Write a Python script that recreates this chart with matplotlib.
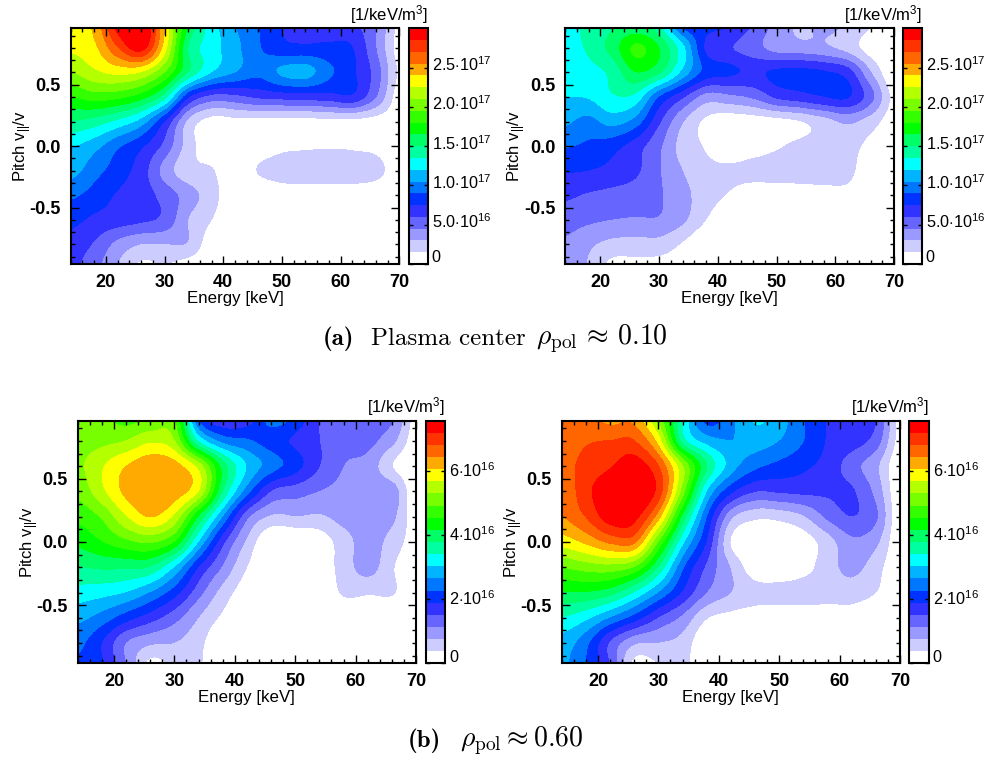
#!/usr/bin/env python3
"""
Fast-ion velocity space contours, plasma center and rho_pol=0.60.
Two pairs of energy/pitch panels, each with its own colour bar.
"""

import numpy as np
import matplotlib
matplotlib.use("Agg")
import matplotlib.pyplot as plt
from matplotlib.colors import BoundaryNorm, ListedColormap
from matplotlib.ticker import MultipleLocator

# =============================================================================
# DATA
# =============================================================================

ENERGY = [14, 18, 22, 26, 30, 34, 38, 42, 46, 50, 54, 58, 62, 66, 70]
PITCH = [1.0, 0.8, 0.6, 0.4, 0.2, 0.0, -0.2, -0.4, -0.6, -0.8, -1.0]

# values in units of one colour step (one row per pitch, top to bottom)
CENTER_A = [
    [15.6, 16.3, 19.6, 20.5, 16.0, 11.0, 8.5, 7.0, 6.0, 5.0, 4.5, 4.5, 4.2, 3.0, 0.7],
    [15.2, 15.8, 18.0, 19.5, 15.5, 10.0, 8.5, 7.3, 6.1, 5.3, 5.2, 5.2, 5.0, 3.0, 0.5],
    [14.0, 14.8, 15.3, 15.0, 13.0, 10.0, 8.0, 7.0, 6.3, 7.2, 7.4, 6.2, 5.2, 3.5, 0.8],
    [12.0, 12.5, 12.3, 11.5, 9.5, 5.2, 3.7, 3.8, 4.2, 4.4, 4.5, 4.6, 4.8, 3.0, 0.4],
    [10.0, 9.6, 8.8, 7.6, 5.0, 1.8, 0.6, 0.7, 0.7, 0.7, 0.7, 0.8, 0.8, 0.6, 0.3],
    [8.1, 7.4, 6.2, 5.2, 3.7, 1.5, 0.3, 0.2, 0.4, 0.8, 0.9, 0.95, 0.9, 0.7, 0.0],
    [7.4, 6.4, 5.5, 4.5, 2.6, 1.3, 1.1, 0.0, 1.1, 1.5, 1.5, 1.5, 1.5, 1.4, 0.2],
    [6.2, 5.6, 4.9, 4.5, 3.6, 2.5, 1.4, 0.2, 0.1, 0.4, 0.5, 0.5, 0.5, 0.2, 0.0],
    [5.3, 4.8, 4.5, 4.2, 3.7, 2.0, 1.0, 0.0, 0.0, 0.0, 0.0, 0.0, 0.0, 0.0, 0.0],
    [4.6, 3.9, 2.7, 2.0, 2.0, 1.9, 0.3, 0.0, 0.0, 0.0, 0.0, 0.0, 0.0, 0.0, 0.0],
    [4.2, 3.3, 1.9, 0.7, 0.9, 0.3, 0.0, 0.0, 0.0, 0.0, 0.0, 0.0, 0.0, 0.0, 0.0],
]
CENTER_B = [
    [8.6, 9.3, 9.8, 10.0, 9.1, 5.5, 5.4, 5.1, 3.9, 2.7, 1.8, 2.3, 1.9, 1.1, 0.0],
    [8.5, 9.2, 10.4, 12.2, 11.0, 8.3, 4.8, 4.1, 3.4, 2.6, 2.4, 2.2, 1.6, 0.5, 0.0],
    [8.1, 8.6, 9.3, 11.0, 10.2, 7.7, 5.6, 5.2, 4.8, 5.2, 5.3, 5.1, 4.5, 2.0, 0.0],
    [8.0, 8.1, 8.9, 8.7, 6.0, 4.2, 2.6, 2.8, 3.2, 4.2, 4.6, 5.0, 5.1, 3.3, 0.6],
    [7.2, 6.7, 7.4, 6.6, 4.2, 2.1, 0.8, 0.4, 0.5, 0.7, 1.0, 1.6, 2.2, 1.5, 0.3],
    [6.1, 5.8, 5.4, 4.5, 3.2, 1.6, 0.9, 0.3, 0.5, 0.9, 1.2, 1.4, 1.5, 0.6, 0.0],
    [5.1, 5.0, 4.7, 4.2, 3.1, 2.0, 1.3, 1.2, 1.4, 1.5, 1.5, 1.5, 1.4, 0.0, 0.0],
    [4.2, 3.9, 3.7, 3.5, 3.1, 2.3, 1.5, 0.9, 0.4, 0.4, 0.5, 0.6, 0.6, 0.1, 0.0],
    [3.5, 3.2, 3.0, 2.9, 2.9, 2.2, 1.0, 0.0, 0.0, 0.0, 0.0, 0.0, 0.0, 0.0, 0.0],
    [2.8, 2.2, 1.7, 1.6, 1.6, 0.9, 0.0, 0.0, 0.0, 0.0, 0.0, 0.0, 0.0, 0.0, 0.0],
    [2.4, 1.9, 0.6, 0.6, 0.5, 0.3, 0.0, 0.0, 0.0, 0.0, 0.0, 0.0, 0.0, 0.0, 0.0],
]
MID_A = [
    [13.2, 13.1, 12.5, 12.8, 13.0, 5.5, 3.9, 4.3, 6.6, 5.8, 3.9, 3.4, 3.3, 3.2, 0.5],
    [13.5, 13.7, 14.0, 14.8, 14.0, 8.8, 6.6, 6.1, 5.5, 4.8, 4.0, 3.4, 3.3, 2.3, 0.3],
    [13.8, 14.9, 16.0, 16.7, 16.4, 14.5, 10.5, 7.9, 6.5, 5.4, 4.0, 3.0, 2.6, 1.0, 0.0],
    [13.3, 14.8, 16.3, 16.8, 16.6, 15.0, 10.0, 6.5, 4.0, 3.5, 3.0, 2.7, 2.6, 2.5, 0.0],
    [12.3, 13.2, 15.0, 16.1, 14.8, 11.0, 7.0, 3.3, 1.9, 2.0, 1.9, 2.4, 2.4, 2.2, 0.3],
    [11.3, 12.0, 12.8, 13.2, 12.0, 8.0, 4.3, 1.8, 0.0, 0.0, 0.4, 1.6, 2.4, 1.6, 0.4],
    [10.0, 10.2, 10.2, 10.0, 8.0, 5.0, 2.9, 1.0, 0.0, 0.0, 0.3, 1.5, 2.4, 1.1, 0.0],
    [8.6, 8.4, 8.0, 7.0, 5.5, 3.4, 1.6, 0.4, 0.0, 0.0, 0.0, 1.2, 1.15, 1.1, 0.0],
    [7.3, 6.6, 5.5, 4.5, 3.4, 2.0, 0.8, 0.0, 0.0, 0.0, 0.0, 0.0, 0.0, 0.0, 0.0],
    [6.3, 5.0, 3.0, 2.2, 2.0, 1.3, 0.0, 0.0, 0.0, 0.0, 0.0, 0.0, 0.0, 0.0, 0.0],
    [5.8, 5.2, 3.0, 0.5, 1.2, 1.1, 0.0, 0.0, 0.0, 0.0, 0.0, 0.0, 0.0, 0.0, 0.0],
]
MID_B = [
    [17.5, 17.3, 16.5, 16.5, 13.5, 9.0, 5.3, 6.8, 8.2, 7.5, 6.0, 4.9, 4.4, 4.1, 0.5],
    [17.6, 17.9, 18.0, 18.0, 15.5, 9.5, 7.5, 7.0, 7.5, 7.0, 6.0, 4.9, 4.5, 3.5, 0.5],
    [17.7, 18.3, 18.9, 19.6, 18.0, 14.0, 10.0, 7.5, 6.3, 5.7, 5.2, 4.6, 3.4, 2.2, 0.0],
    [17.2, 18.7, 19.8, 20.2, 18.6, 13.5, 8.0, 5.3, 4.1, 4.2, 4.3, 4.2, 4.1, 2.6, 0.0],
    [17.0, 18.1, 19.6, 19.4, 16.5, 10.8, 6.0, 2.3, 1.3, 1.4, 2.0, 3.3, 4.0, 3.1, 0.0],
    [15.5, 16.3, 17.3, 17.3, 13.0, 8.3, 4.9, 0.9, 0.0, 0.0, 0.5, 1.6, 2.8, 2.2, 0.0],
    [13.1, 13.5, 13.7, 13.0, 10.0, 6.2, 3.8, 1.9, 0.3, 0.1, 0.6, 1.6, 2.3, 1.4, 0.0],
    [11.0, 11.0, 10.5, 9.0, 7.0, 4.9, 3.0, 2.0, 1.4, 1.4, 1.5, 1.5, 1.5, 1.0, 0.0],
    [9.0, 8.3, 7.0, 5.6, 4.0, 2.8, 1.1, 0.7, 0.5, 0.4, 0.4, 0.4, 0.5, 0.1, 0.0],
    [7.6, 6.3, 3.9, 2.2, 2.0, 1.6, 0.0, 0.0, 0.0, 0.0, 0.0, 0.0, 0.0, 0.0, 0.0],
    [7.2, 6.0, 4.0, 0.5, 0.9, 1.3, 0.0, 0.0, 0.0, 0.0, 0.0, 0.0, 0.0, 0.0, 0.0],
]

BAND_COLORS = [
    "#ffffff", "#ccccff", "#9999ff", "#6666ff", "#3333ff",
    "#0033ff", "#0077ff", "#00b4ff", "#00ffff", "#00ffa0",
    "#00ff66", "#00ff00", "#33ff00", "#77ff00", "#b4ff00",
    "#ffff00", "#ffaa00", "#ff6600", "#ff3300", "#ff0000",
]

CBAR_TICKS_CENTER = [0, 5.0e16, 1.0e17, 1.5e17, 2.0e17, 2.5e17]
CBAR_LABELS_CENTER = ["0", r"5.0$\cdot$10$^{16}$", r"1.0$\cdot$10$^{17}$",
                      r"1.5$\cdot$10$^{17}$", r"2.0$\cdot$10$^{17}$", r"2.5$\cdot$10$^{17}$"]
CBAR_TICKS_MID = [0, 2e16, 4e16, 6e16]
CBAR_LABELS_MID = ["0", r"2$\cdot$10$^{16}$", r"4$\cdot$10$^{16}$", r"6$\cdot$10$^{16}$"]

STEP_CENTER = 0.15e17
STEP_MID = 0.3775e16

# =============================================================================
# CONFIG
# =============================================================================

WIDTH, HEIGHT = 988, 760
FONT = "Liberation Sans"

plt.rcParams["font.family"] = FONT
plt.rcParams["mathtext.fontset"] = "custom"
plt.rcParams["mathtext.rm"] = FONT
plt.rcParams["mathtext.it"] = FONT
plt.rcParams["mathtext.bf"] = FONT + ":bold"
plt.rcParams["mathtext.default"] = "it"


def px_axes(fig, left, top, right, bottom):
    return fig.add_axes(
        [left / WIDTH, 1 - bottom / HEIGHT, (right - left) / WIDTH, (bottom - top) / HEIGHT]
    )


def panel(fig, box, cbox, values, step, ticks, labels, label_shift):
    ax = px_axes(fig, *box)
    levels = np.arange(21) * step
    cmap = ListedColormap(BAND_COLORS)
    norm = BoundaryNorm(levels, cmap.N)
    # catrom on the data, so the colour bands get smooth edges and keep the values
    half_e = (ENERGY[1] - ENERGY[0]) / 2
    half_p = (PITCH[0] - PITCH[1]) / 2
    im = ax.imshow(
        np.array(values) * step,
        extent=[ENERGY[0] - half_e, ENERGY[-1] + half_e, PITCH[-1] - half_p, PITCH[0] + half_p],
        origin="upper",
        aspect="auto",
        interpolation="catrom",
        interpolation_stage="data",
        cmap=cmap,
        norm=norm,
    )
    ax.set_xlim(14, 70)
    ax.set_ylim(-0.96, 0.96)
    ax.xaxis.set_major_locator(MultipleLocator(10))
    ax.xaxis.set_minor_locator(MultipleLocator(2))
    ax.yaxis.set_major_locator(MultipleLocator(0.5))
    ax.yaxis.set_minor_locator(MultipleLocator(0.1))
    ax.tick_params(which="major", direction="in", top=True, right=True, length=6, width=1.0, pad=7)
    ax.tick_params(which="minor", direction="in", top=True, right=True, length=3, width=1.0)
    ax.set_yticks([-0.5, 0.0, 0.5], ["-0.5", "0.0", "0.5"])
    for lab in ax.get_xticklabels() + ax.get_yticklabels():
        lab.set_fontsize(13)
        lab.set_fontweight("bold")
    ax.set_xlabel("Energy [keV]", fontsize=12.2, labelpad=0)
    ax.set_ylabel(r"Pitch v$_{||}$/v", fontsize=12, labelpad=-3)
    for sp in ax.spines.values():
        sp.set_linewidth(1.5)

    cax = px_axes(fig, *cbox)
    cb = fig.colorbar(im, cax=cax, ticks=ticks, drawedges=False, spacing="proportional")
    cb.set_ticklabels([])
    cb.ax.minorticks_off()
    cax.tick_params(direction="in", length=3, width=1.0, left=True, right=True)
    cb.outline.set_linewidth(1.5)
    for val, text in zip(ticks, labels):
        shift = label_shift if val else 6
        cax.annotate(text, xy=(1, val), xycoords=cax.get_yaxis_transform(),
                     xytext=(4, shift), textcoords="offset pixels",
                     ha="left", va="center", fontsize=11.7)
    cax.text(1.0, 1.01, r"[1/keV/m$^3$]", transform=cax.transAxes, ha="right", va="bottom", fontsize=12)
    return ax


def main():
    fig = plt.figure(figsize=(WIDTH / 100, HEIGHT / 100), dpi=100)

    panel(fig, (70.7, 28.3, 399.3, 264), (409, 28.3, 427.7, 264),
          CENTER_A, STEP_CENTER, CBAR_TICKS_CENTER, CBAR_LABELS_CENTER, 3)
    panel(fig, (565, 28.3, 894, 264), (902.7, 28.3, 921.7, 264),
          CENTER_B, STEP_CENTER, CBAR_TICKS_CENTER, CBAR_LABELS_CENTER, 3)
    panel(fig, (77.7, 420.7, 416, 663.3), (425.7, 420.7, 445, 663.3),
          MID_A, STEP_MID, CBAR_TICKS_MID, CBAR_LABELS_MID, 0)
    panel(fig, (561.7, 420.7, 900, 663.3), (909.3, 420.7, 928.7, 663.3),
          MID_B, STEP_MID, CBAR_TICKS_MID, CBAR_LABELS_MID, 0)

    # captions, Computer Modern like the paper
    for x, y, text, fam in [
        (323, 339, "(a)", "cmb10"),
        (371, 339, "Plasma center", "cmr10"),
        (408, 741, "(b)", "cmb10"),
    ]:
        fig.text(x / WIDTH, 1 - y / HEIGHT, text, ha="left", va="center", fontsize=18, family=fam)
    fig.text(536 / WIDTH, 1 - 339 / HEIGHT, r"$\rho_{\mathrm{pol}}\,\approx\, \mathrm{0.10}$",
             ha="left", va="center", fontsize=20, math_fontfamily="cm")
    fig.text(460 / WIDTH, 1 - 741 / HEIGHT, r"$\rho_{\mathrm{pol}}\approx \mathrm{0.60}$",
             ha="left", va="center", fontsize=20, math_fontfamily="cm")

    fig.savefig("out.png", dpi=100)


if __name__ == "__main__":
    main()
